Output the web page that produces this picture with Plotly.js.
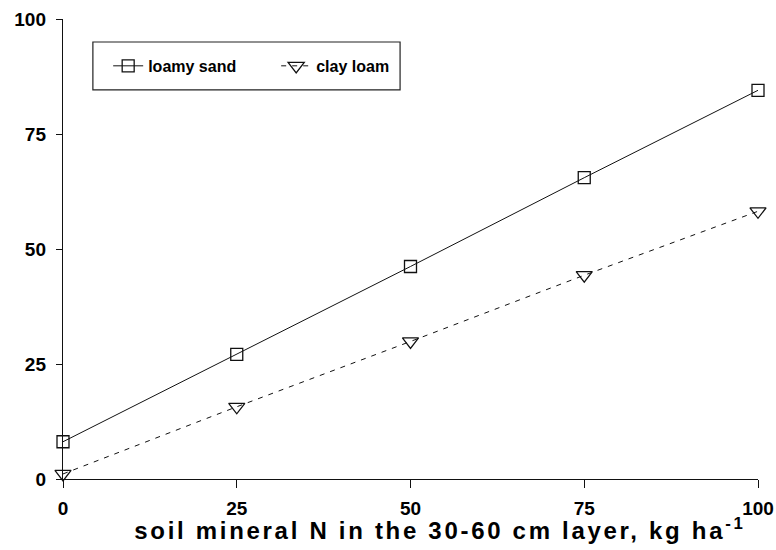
<!DOCTYPE html>
<html>
<head>
<meta charset="utf-8">
<script src="https://cdn.plot.ly/plotly-3.0.1.min.js"></script>
<style>
  html, body { margin: 0; padding: 0; background: #fff; }
  #chart { width: 776px; height: 550px; }
  /* wide tracking on the axis caption */
  #chart .annotation-text { letter-spacing: 2.7px; }
</style>
</head>
<body>
<div id="chart"></div>
<script>
// Soil mineral N in the 30-60 cm layer (kg ha-1)
const soilN = [0, 25, 50, 75, 100];
// Response for each soil texture
const loamySand = [8.1, 27.1, 46.2, 65.5, 84.5];
const clayLoam = [1.1, 15.7, 29.9, 44.3, 58.2];
const tickVals = [0, 25, 50, 75, 100];
const tickText = ['0', '25', '50', '75', '100'];
const xCaption = 'soil mineral N in the 30-60 cm layer, kg ha<sup>-1</sup>';

const font = 'Liberation Sans, Arial, sans-serif';

const traces = [
  {
    x: soilN, y: loamySand, name: 'loamy sand',
    type: 'scatter', mode: 'lines+markers',
    line: { color: '#111', width: 1, dash: 'solid' },
    marker: { symbol: 'square-open', size: 12, color: '#111', line: { width: 1.3 } },
    cliponaxis: false
  },
  {
    x: soilN, y: clayLoam, name: 'clay loam',
    type: 'scatter', mode: 'lines+markers',
    line: { color: '#111', width: 1, dash: '5px,6px' },
    marker: { symbol: 'triangle-down-open', size: 14, color: '#111', line: { width: 1.3 } },
    cliponaxis: false
  }
];

const layout = {
  width: 776, height: 550,
  margin: { l: 63, r: 18, t: 19, b: 71 },
  paper_bgcolor: '#fff', plot_bgcolor: '#fff',
  font: { family: font, color: '#000' },
  showlegend: true,
  legend: {
    orientation: 'h',
    x: 0.065, y: 0.898, xanchor: 'left', yanchor: 'middle',
    borderwidth: 0, bgcolor: 'rgba(0,0,0,0)',
    font: { family: font, size: 16, color: '#000', weight: 'bold' },
    itemwidth: 30,
    entrywidth: 123, entrywidthmode: 'pixels'
  },
  // frame around the legend
  shapes: [{
    type: 'rect', xref: 'paper', yref: 'paper',
    x0: 0.043, x1: 0.485, y0: 0.846, y1: 0.950,
    line: { color: '#222', width: 1.2 }, fillcolor: 'rgba(0,0,0,0)', layer: 'below'
  }],
  annotations: [{
    text: xCaption, xref: 'paper', yref: 'paper',
    x: 0.5424, y: -0.109, xanchor: 'center', yanchor: 'middle',
    showarrow: false,
    font: { family: font, size: 24, color: '#000', weight: 'bold' }
  }],
  xaxis: {
    range: [0, 100], tickvals: tickVals, ticktext: tickText,
    showgrid: false, zeroline: false,
    showline: true, linecolor: '#111', linewidth: 1.2,
    ticks: 'outside', ticklen: 8, tickcolor: '#111', tickwidth: 1,
    ticklabelstandoff: 4,
    tickfont: { family: font, size: 19, weight: 'bold', color: '#000' }
  },
  yaxis: {
    range: [0, 100], tickvals: tickVals, ticktext: tickText,
    showgrid: false, zeroline: false,
    showline: true, linecolor: '#111', linewidth: 1.2,
    ticks: 'outside', ticklen: 6, tickcolor: '#111', tickwidth: 1,
    ticklabelstandoff: 6,
    tickfont: { family: font, size: 19, weight: 'bold', color: '#000' }
  }
};

Plotly.newPlot('chart', traces, layout, { displayModeBar: false, staticPlot: true });
</script>
</body>
</html>
